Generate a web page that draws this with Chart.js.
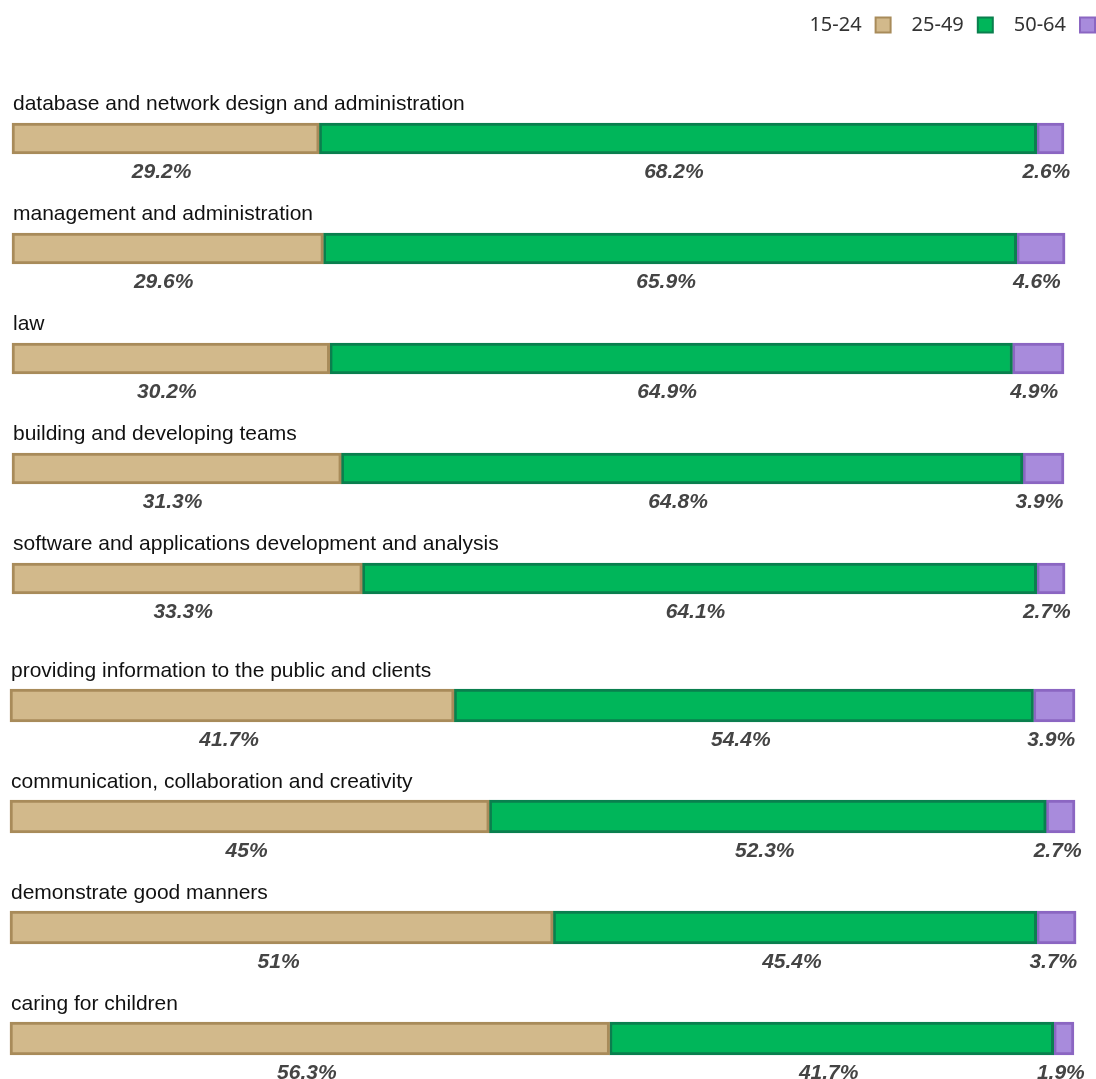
<!DOCTYPE html>
<html>
<head>
<meta charset="utf-8">
<script src="https://cdn.jsdelivr.net/npm/chart.js@4/dist/chart.umd.min.js"></script>
<style>
  html, body { margin: 0; padding: 0; background: #fff; overflow: hidden; }
  #wrap { position: relative; width: 1096px; height: 1079px; }
  canvas { position: absolute; left: 0; }
  #upper { top: 0; }
  #lower { top: 640px; }
</style>
</head>
<body>
<div id="wrap">
  <canvas id="upper" width="1096" height="640"></canvas>
  <canvas id="lower" width="1096" height="439"></canvas>
</div>
<script>
// Skill areas, ordered by share of the youngest age group
const categories = [
  'database and network design and administration',
  'management and administration',
  'law',
  'building and developing teams',
  'software and applications development and analysis',
  'providing information to the public and clients',
  'communication, collaboration and creativity',
  'demonstrate good manners',
  'caring for children'
];
const seriesLabels = ['15-24', '25-49', '50-64'];
const age15to24 = [29.2, 29.6, 30.2, 31.3, 33.3, 41.7, 45, 51, 56.3];
const age25to49 = [68.2, 65.9, 64.9, 64.8, 64.1, 54.4, 52.3, 45.4, 41.7];
const age50to64 = [2.6, 4.6, 4.9, 3.9, 2.7, 3.9, 2.7, 3.7, 1.9];
const upperCount = 5; // first panel holds the first five skills

const fills   = ['#d2b98b', '#00b65a', '#a88bdc'];
const borders = ['#a88b5a', '#0a7f4e', '#8b66c2'];

function fmt(v) { return v + '%'; }

// Titles above each bar and percentages under each segment
const annotate = {
  id: 'annotate',
  afterDatasetsDraw(chart, args, opts) {
    const ctx = chart.ctx;
    ctx.save();
    const labels = chart.data.labels;
    const meta0 = chart.getDatasetMeta(0);
    ctx.fillStyle = '#111';
    ctx.font = '21px "Liberation Sans", Arial, sans-serif';
    ctx.textAlign = 'left';
    ctx.textBaseline = 'alphabetic';
    meta0.data.forEach((el, i) => {
      const p = el.getProps(['base', 'y', 'height'], true);
      ctx.fillText(labels[i], p.base + 1, p.y - p.height / 2 - opts.titleGap);
    });
    ctx.fillStyle = '#444';
    ctx.font = 'italic bold 21px "Liberation Sans", Arial, sans-serif';
    ctx.textAlign = 'center';
    chart.data.datasets.forEach((ds, d) => {
      const meta = chart.getDatasetMeta(d);
      meta.data.forEach((el, i) => {
        const p = el.getProps(['x', 'base', 'y', 'height'], true);
        const cx = (p.x + p.base) / 2 + opts.labelShift;
        ctx.fillText(fmt(ds.data[i]), cx, p.y + p.height / 2 + 24);
      });
    });
    ctx.restore();
  }
};

// Legend in the top-right corner: label followed by its swatch
const sideLegend = {
  id: 'sideLegend',
  afterDraw(chart, args, opts) {
    if (!opts.show) return;
    const ctx = chart.ctx;
    ctx.save();
    ctx.font = '20px "Noto Sans", sans-serif';
    ctx.textBaseline = 'middle';
    ctx.textAlign = 'left';
    const box = 17, gapText = 13, gapItem = 20, cy = 25;
    const ds = chart.data.datasets;
    const widths = ds.map(d => ctx.measureText(d.label).width + gapText + box);
    let x = chart.width - (widths.reduce((a, b) => a + b, 0) + gapItem * (ds.length - 1));
    ds.forEach((d, i) => {
      ctx.fillStyle = '#333';
      ctx.fillText(d.label, x, cy);
      const bx = x + widths[i] - box;
      ctx.fillStyle = d.borderColor;
      ctx.fillRect(bx, cy - box / 2, box, box);
      ctx.fillStyle = d.backgroundColor;
      ctx.fillRect(bx + 2, cy - box / 2 + 2, box - 4, box - 4);
      x += widths[i] + gapItem;
    });
    ctx.restore();
  }
};

function makePanel(canvasId, from, to, pad, thickness, titleGap, labelShift, showLegend) {
  const series = [age15to24, age25to49, age50to64];
  new Chart(document.getElementById(canvasId), {
    type: 'bar',
    data: {
      labels: categories.slice(from, to),
      datasets: series.map((vals, k) => ({
        label: seriesLabels[k],
        data: vals.slice(from, to),
        backgroundColor: fills[k],
        borderColor: borders[k],
        borderWidth: 3,
        borderSkipped: false,
        barThickness: thickness,
        clip: false
      }))
    },
    options: {
      indexAxis: 'y',
      responsive: false,
      animation: false,
      layout: { padding: pad },
      scales: {
        x: { stacked: true, min: 0, max: 100, display: false },
        y: { stacked: true, display: false, offset: false }
      },
      plugins: {
        legend: { display: false },
        tooltip: { enabled: false },
        annotate: { titleGap: titleGap, labelShift: labelShift },
        sideLegend: { show: showLegend }
      }
    },
    plugins: [annotate, sideLegend]
  });
}

makePanel('upper', 0, upperCount, { left: 12, right: 32, top: 138.5, bottom: 61.5 }, 31, 13, -4, true);
makePanel('lower', upperCount, categories.length, { left: 10, right: 21, top: 65.5, bottom: 40.5 }, 33, 12, -3, false);
</script>
</body>
</html>
